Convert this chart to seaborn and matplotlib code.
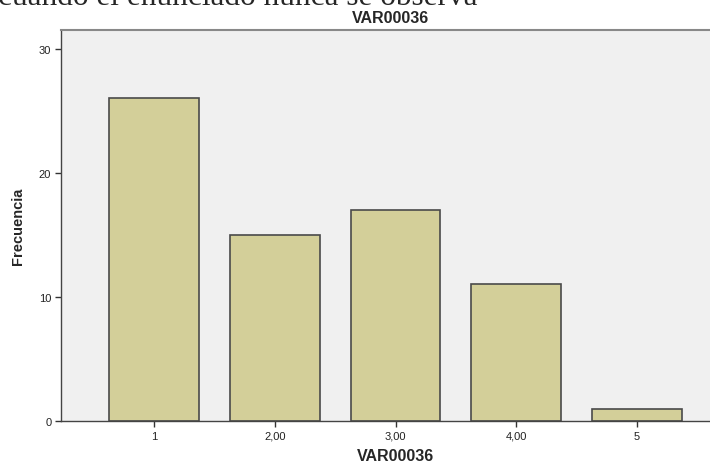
import matplotlib
matplotlib.use('Agg')
import matplotlib.pyplot as plt
import seaborn as sns
import pandas as pd

# datos del grafico
categorias = ['1', '2,00', '3,00', '4,00', '5']
frecuencias = [26, 15, 17, 11, 1]
titulo = 'VAR00036'
texto_superior = 'cuando el enunciado nunca se observa'

df = pd.DataFrame({'cat': categorias, 'frec': frecuencias})

sns.set_style('white')
plt.rcParams['font.family'] = ['Liberation Sans', 'DejaVu Sans']

fig = plt.figure(figsize=(7.10, 4.64), dpi=100)
# el marco sigue mas alla del borde derecho (imagen recortada)
ax = fig.add_axes([61 / 710, 1 - 422 / 464, 669 / 710, 391 / 464])
ax.set_facecolor('#f0f0f0')

sns.barplot(data=df, x='cat', y='frec', ax=ax, color='#d3cf99', saturation=1,
            width=0.745, edgecolor='#4a4a4a', linewidth=1.2)

ax.set_xlim(-0.77, 4.77)
ax.set_ylim(0, 31.5)
ax.set_yticks([0, 10, 20, 30])
ax.tick_params(axis='both', direction='out', length=4.5, width=1, color='#333333',
               labelsize=8, labelcolor='#222222', left=True, bottom=True, pad=2.5)
ax.set_xlabel(titulo, fontsize=11.5, fontweight='bold')
ax.set_ylabel('Frecuencia', fontsize=10.5, fontweight='bold')
ax.xaxis.set_label_coords(0.5, (422 - 449) / 391)
ax.yaxis.set_label_coords((25 - 61) / 669, 0.5)

for s in ['left', 'bottom']:
    ax.spines[s].set_color('#444444')
    ax.spines[s].set_linewidth(1)
ax.spines['top'].set_color('#888888')
ax.spines['top'].set_linewidth(1.5)
ax.spines['right'].set_visible(False)

fig.text(391 / 710, 1 - 23 / 464, titulo, ha='center', va='baseline',
         fontsize=11.5, fontweight='bold')
fig.text(-2 / 710, 1 - 5 / 464, texto_superior, ha='left', va='baseline',
         fontsize=22.5, family=['Liberation Serif', 'DejaVu Serif'])

fig.savefig('out.png', dpi=100)
